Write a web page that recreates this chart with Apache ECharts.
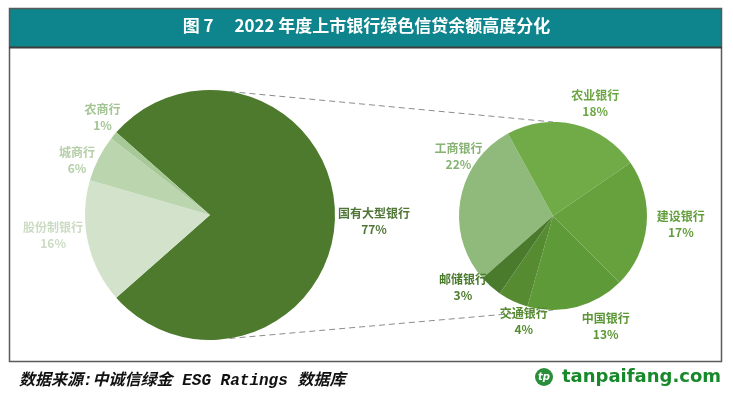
<!DOCTYPE html>
<html>
<head>
<meta charset="utf-8">
<title>2022年度上市银行绿色信贷余额高度分化</title>
<script src="https://cdn.jsdelivr.net/npm/echarts@6/dist/echarts.min.js"></script>
<style>
html, body { margin: 0; padding: 0; background: #fff; }
#chart { width: 733px; height: 396px; }
</style>
</head>
<body>
<div id="chart"></div>
<script>
// 左侧大饼：各类上市银行绿色信贷余额占比(%)
var mainNames = ['国有大型银行', '股份制银行', '城商行', '农商行'];
var mainValues = [77, 16, 6, 1];
// 右侧小饼：国有大型银行拆分(%，占全部上市银行)
var subNames = ['工商银行', '农业银行', '建设银行', '中国银行', '交通银行', '邮储银行'];
var subValues = [22, 18, 17, 13, 4, 3];

var mainColors = ['#4d7a2d', '#d3e3cb', '#bbd5af', '#a7c997'];
var mainLabelColors = ['#4f7537', '#cbdbc4', '#b5cfa9', '#a3c493'];
var subColors = ['#8fba7b', '#70ab47', '#66a13e', '#5f9a38', '#568b32', '#4a7a2c'];
var subLabelColors = ['#88b375', '#6ca643', '#639e3b', '#5c9636', '#568b32', '#4a7a2c'];

var bigC = [210, 215], bigR = 125, bigStart = 138.6;
var smallC = [553, 216], smallR = 94, smallStart = 221.5;

// 标签微调（仿Excel最佳位置）
var mainNudge = [[1, 6], [-1, -14], [1, 14], [9, -1]];
var subNudge = [[26, -38], [15, 1], [7, -3], [23, -3], [22, -4], [-8, -21]];

var cjk = '"Noto Sans CJK SC", "Noto Sans", sans-serif';

function midAngles(values, start) {
    var total = 0, acc = 0;
    values.forEach(function (v) { total += v; });
    return values.map(function (v) {
        var m = start - (acc + v / 2) / total * 360;
        acc += v;
        return m;
    });
}

// 标签放在扇区中线外侧，框边贴着圆
function makeLayout(values, start, c, r, nudge) {
    var mids = midAngles(values, start);
    return function (p) {
        var i = p.dataIndex;
        var a = mids[i] * Math.PI / 180;
        var cos = Math.cos(a), sin = Math.sin(a);
        var w = p.labelRect.width, h = p.labelRect.height;
        var d = r + w / 2 * Math.abs(cos) + h / 2 * Math.abs(sin) + 2;
        return {
            x: c[0] + d * cos + nudge[i][0],
            y: c[1] - d * sin + nudge[i][1],
            align: 'center',
            verticalAlign: 'middle'
        };
    };
}

function pieData(names, values, colors, labelColors) {
    return names.map(function (n, i) {
        return {
            name: n,
            value: values[i],
            itemStyle: { color: colors[i] },
            label: { color: labelColors[i] }
        };
    });
}

var pieLabel = {
    show: true,
    position: 'outside',
    formatter: '{b}\n{c}%',
    fontSize: 12,
    fontWeight: 'bold',
    lineHeight: 16,
    fontFamily: cjk
};

// 连接虚线：大饼上下边缘 -> 小饼顶部/底部
var joinAng = 81 * Math.PI / 180;
var topA = [bigC[0] + bigR * Math.cos(joinAng), bigC[1] - bigR * Math.sin(joinAng)];
var botA = [bigC[0] + bigR * Math.cos(joinAng), bigC[1] + bigR * Math.sin(joinAng)];
var topB = [smallC[0], smallC[1] - smallR];
var botB = [smallC[0], smallC[1] + smallR];

var chart = echarts.init(document.getElementById('chart'));
var option = {
    animation: false,
    backgroundColor: '#fff',
    title: {
        text: '图 7　 2022 年度上市银行绿色信贷余额高度分化',
        left: 'center',
        top: 17,
        padding: 0,
        textStyle: { color: '#fff', fontSize: 17, fontWeight: 'bold', fontFamily: cjk }
    },
    graphic: [
        { type: 'rect', z: 0, shape: { x: 9, y: 8, width: 712, height: 40 },
          style: { fill: '#0e848c' } },
        { type: 'rect', z: 1, shape: { x: 9.5, y: 8.5, width: 712, height: 353 },
          style: { fill: null, stroke: '#5a5a5a', lineWidth: 1.5 } },
        { type: 'line', z: 1, shape: { x1: 9, y1: 47.5, x2: 722, y2: 47.5 },
          style: { stroke: '#3d3d3d', lineWidth: 2 } },
        { type: 'line', z: 0, shape: { x1: topA[0], y1: topA[1], x2: topB[0], y2: topB[1] },
          style: { stroke: '#8c8c8c', lineWidth: 1, lineDash: [6, 4] } },
        { type: 'line', z: 0, shape: { x1: botA[0], y1: botA[1], x2: botB[0], y2: botB[1] },
          style: { stroke: '#8c8c8c', lineWidth: 1, lineDash: [6, 4] } },
        { type: 'text', z: 1, x: 19, y: 381,
          style: { text: '数据来源:中诚信绿金 ESG Ratings 数据库', fill: '#111',
                   font: 'italic bold 16px "Liberation Mono", "Noto Sans CJK SC", monospace',
                   verticalAlign: 'middle' } },
        { type: 'circle', z: 1, shape: { cx: 544, cy: 377, r: 9 },
          style: { fill: '#2a8d3a' } },
        { type: 'text', z: 2, x: 544, y: 377,
          style: { text: 'tp', fill: '#fff', font: 'italic bold 10px "DejaVu Sans", sans-serif',
                   align: 'center', verticalAlign: 'middle' } },
        { type: 'text', z: 1, x: 562, y: 377,
          style: { text: 'tanpaifang.com', fill: '#17892a',
                   font: 'bold 18px "DejaVu Sans", sans-serif', verticalAlign: 'middle' } }
    ],
    series: [
        {
            type: 'pie',
            center: bigC,
            radius: bigR,
            startAngle: bigStart,
            clockwise: true,
            avoidLabelOverlap: false,
            itemStyle: { borderWidth: 0 },
            label: pieLabel,
            labelLine: { show: false },
            labelLayout: makeLayout(mainValues, bigStart, bigC, bigR, mainNudge),
            emphasis: { disabled: true },
            data: pieData(mainNames, mainValues, mainColors, mainLabelColors)
        },
        {
            type: 'pie',
            center: smallC,
            radius: smallR,
            startAngle: smallStart,
            clockwise: true,
            avoidLabelOverlap: false,
            itemStyle: { borderWidth: 0 },
            label: pieLabel,
            labelLine: { show: false },
            labelLayout: makeLayout(subValues, smallStart, smallC, smallR, subNudge),
            emphasis: { disabled: true },
            data: pieData(subNames, subValues, subColors, subLabelColors)
        }
    ]
};
chart.setOption(option);

window.onresize = function () {
    chart.resize();
};
</script>
</body>
</html>
